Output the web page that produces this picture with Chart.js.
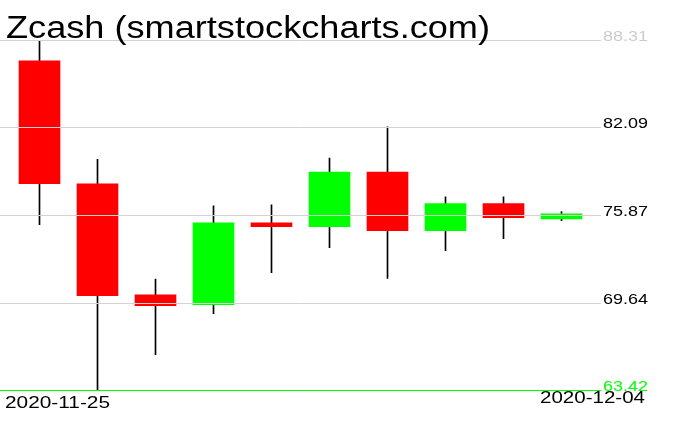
<!DOCTYPE html>
<html>
<head>
<meta charset="utf-8">
<script src="https://cdn.jsdelivr.net/npm/chart.js@4.4.1/dist/chart.umd.min.js"></script>
<style>
  html, body { margin: 0; padding: 0; background: #fff; }
  #wrap { width: 676px; height: 431px; }
</style>
</head>
<body>
<div id="wrap"><canvas id="chartZcash" width="676" height="431"></canvas></div>
<script>
const titulo = "Zcash (smartstockcharts.com)";
const fechas = ["2020-11-25", "2020-11-26", "2020-11-27", "2020-11-28", "2020-11-29",
  "2020-11-30", "2020-12-01", "2020-12-02", "2020-12-03", "2020-12-04"];
const aperturas = [86.82, 78.09, 70.18, 69.49, 75.30, 75.04, 78.92, 74.75, 76.67, 75.58];
const maximos = [88.31, 79.83, 71.31, 76.51, 76.58, 79.92, 82.13, 77.15, 77.15, 76.10];
const minimos = [75.18, 63.42, 65.93, 68.85, 71.77, 73.54, 71.36, 73.33, 74.18, 75.46];
const cierres = [78.09, 70.13, 69.42, 75.30, 75.04, 78.92, 74.75, 76.67, 75.68, 75.94];
const marcasY = [88.31, 82.09, 75.87, 69.64, 63.42];

const colores = cierres.map((c, i) => (c >= aperturas[i] ? "#00ff00" : "#ff0000"));

// texto ensanchado para parecerse a la fuente de trazo del original
function texto(ctx, t, x, y, ancho, alinear) {
  ctx.save();
  const w = ctx.measureText(t).width;
  const sx = ancho / w;
  const x0 = alinear === "right" ? x - ancho : x;
  ctx.translate(x0, y);
  ctx.scale(sx, 1);
  ctx.textAlign = "left";
  ctx.fillText(t, 0, 0);
  ctx.restore();
}

// lineas de la grilla, etiquetas y titulo encima de las velas
const decoracion = {
  id: "decoracion",
  afterDatasetsDraw(chart) {
    const { ctx, scales } = chart;
    ctx.save();
    ctx.textBaseline = "alphabetic";
    marcasY.forEach((v, i) => {
      const y = Math.round(scales.y.getPixelForValue(v)) + 0.5;
      const ultimo = i === marcasY.length - 1;
      ctx.strokeStyle = ultimo ? "#00ff00" : "#d3d3d3";
      ctx.lineWidth = 1;
      ctx.beginPath();
      ctx.moveTo(0, y);
      ctx.lineTo(601, y);
      ctx.stroke();
      ctx.font = "15px 'Liberation Sans'";
      ctx.fillStyle = i === 0 ? "#cccccc" : (ultimo ? "#00ff00" : "#000000");
      texto(ctx, v.toFixed(2), 603, y + 0.5, 45, "left");
    });

    const etiquetas = chart.data.labels;
    ctx.fillStyle = "#000";
    ctx.font = "17px 'Liberation Sans'";
    texto(ctx, etiquetas[0], 5, 408, 105, "left");
    texto(ctx, etiquetas[etiquetas.length - 1], 645, 403, 105, "right");

    ctx.font = "31px 'Liberation Sans'";
    texto(ctx, titulo, 6, 38, 484, "left");
    ctx.restore();
  }
};

function init() {
  const canvas = document.getElementById("chartZcash");
  new Chart(canvas, {
    type: "bar",
    data: {
      labels: fechas,
      datasets: [
        {
          label: "mecha",
          data: minimos.map((l, i) => [l, maximos[i]]),
          backgroundColor: "#000000",
          barThickness: 1,
          grouped: false,
          order: 2
        },
        {
          label: "cuerpo",
          data: aperturas.map((o, i) => [o, cierres[i]]),
          backgroundColor: colores,
          barThickness: 41,
          grouped: false,
          order: 1
        }
      ]
    },
    options: {
      responsive: false,
      animation: false,
      layout: { padding: { left: 10.5, right: 85.5, top: 40, bottom: 41 } },
      plugins: { legend: { display: false }, tooltip: { enabled: false } },
      scales: {
        x: { display: false },
        y: { display: false, min: 63.42, max: 88.31 }
      }
    },
    plugins: [decoracion]
  });
}

if (document.readyState === "loading") {
  document.addEventListener("DOMContentLoaded", init);
} else {
  init();
}
</script>
</body>
</html>
